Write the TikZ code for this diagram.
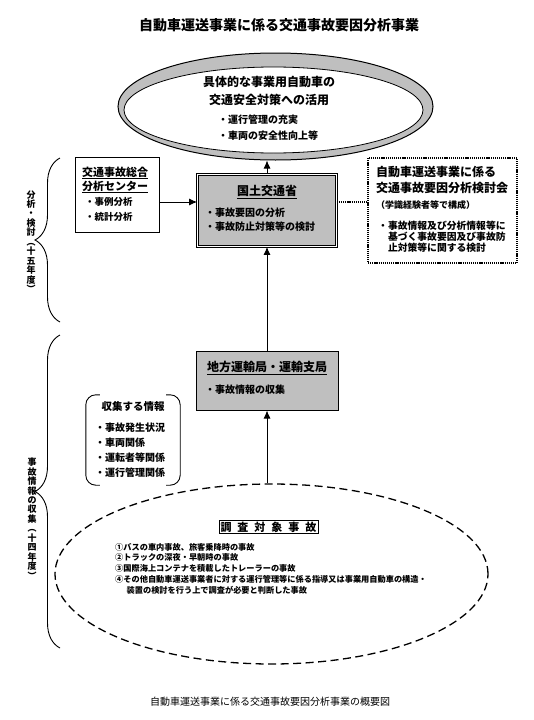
\documentclass[tikz,border=0pt]{standalone}
\usepackage{fontspec}
\setmainfont{Noto Sans CJK JP}
\usetikzlibrary{shapes.geometric,decorations.pathreplacing,arrows.meta}
\begin{document}
\begin{tikzpicture}[x=1pt, y=-1pt,
  arr/.style={-{Latex[length=8pt,width=7pt]}, line width=0.9pt},
  dotline/.style={line width=1.4pt, dash pattern=on 1.2pt off 0.9pt},
  grey box/.style={draw, fill=black!25, minimum width=142pt},
  head/.style={inner sep=0pt, align=center, font=\bfseries\fontsize{12}{18}\selectfont},
  item/.style={anchor=west, inner sep=0pt, align=left, font=\bfseries\fontsize{10}{14}\selectfont},
  vert/.style={inner sep=0pt, align=center, font=\bfseries\fontsize{9}{9.45}\selectfont}]
\useasboundingbox (0,0) rectangle (533,720);
\node[inner sep=0pt, font=\bfseries\fontsize{14}{16}\selectfont] (title) at (279,25) {自動車運送事業に係る交通事故要因分析事業};
\node[shape=ellipse, draw, line width=1pt, fill=black!25, minimum width=315pt, minimum height=107pt] (goal) at (275.5,106.5) {};
\node[shape=ellipse, draw, line width=0.8pt, fill=white, minimum width=299pt, minimum height=86pt] (goalin) at (273.5,110) {};
\node[head] (goalt) at (269,91) {具体的な事業用自動車の\\交通安全対策への活用};
\node[item, font=\bfseries\fontsize{10}{16}\selectfont] (goalb) at (218,128) {・運行管理の充実\\・車両の安全性向上等};
\node[draw, line width=0.9pt, minimum width=84pt, minimum height=75pt] (ctr) at (117,194.5) {};
\node[head, font=\bfseries\fontsize{11}{14}\selectfont] (ctrt) at (115,180) {\underline{交通事故総合}\\\underline{分析センター}};
\node[item, font=\bfseries\fontsize{9.5}{15}\selectfont] (ctrb) at (85,209.5) {・事例分析\\・統計分析};
\node[grey box, double, double distance=1.2pt, line width=0.7pt, minimum width=139pt, minimum height=72pt] (mlit) at (267,210.5) {};
\node[head] (mlitt) at (267,192) {\underline{国土交通省}};
\node[item] (mlitb) at (205,220) {・事故要因の分析\\・事故防止対策等の検討};
\node[draw, dotline, minimum width=149pt, minimum height=105pt] (study) at (442.5,210.5) {};
\node[item, font=\bfseries\fontsize{12}{16}\selectfont] (studyt) at (376,180) {自動車運送事業に係る\\交通事故要因分析検討会};
\node[item, font=\bfseries\fontsize{9}{11}\selectfont] (studym) at (376,205) {（学識経験者等で構成）};
\node[item, font=\bfseries\fontsize{9.8}{11.2}\selectfont] (studyb) at (378,237) {・事故情報及び分析情報等に\\\hspace*{1em}基づく事故要因及び事故防\\\hspace*{1em}止対策等に関する検討};
\node[grey box, line width=1pt, minimum height=59pt] (bureau) at (267,380.5) {};
\node[head] (bureaut) at (267,368) {\underline{地方運輸局・運輸支局}};
\node[item] (bureaub) at (205,390) {・事故情報の収集};
\node[minimum width=94pt, minimum height=90pt] (info) at (133,440) {};
\node[head, font=\bfseries\fontsize{10.5}{12}\selectfont] (infot) at (133,407) {収集する情報};
\node[item, font=\bfseries\fontsize{10}{15}\selectfont] (infob) at (95,450.5) {・事故発生状況\\・車両関係\\・運転者等関係\\・運行管理関係};
\draw[rounded corners=10pt, line width=0.9pt] ([xshift=14pt]info.north west) -- (info.north west) -- (info.south west) -- ([xshift=14pt]info.south west);
\draw[rounded corners=10pt, line width=0.9pt] ([xshift=-14pt]info.north east) -- (info.north east) -- (info.south east) -- ([xshift=-14pt]info.south east);
\node[shape=ellipse, draw, line width=1.3pt, dash pattern=on 8pt off 4.5pt, minimum width=433pt, minimum height=180pt] (target) at (271.5,574) {};
\node[draw, line width=0.8pt, inner sep=1.5pt, font=\bfseries\fontsize{11}{13}\selectfont] (targett) at (268.5,527) {調\hspace{6pt}査\hspace{6pt}対\hspace{6pt}象\hspace{6pt}事\hspace{6pt}故};
\node[item, font=\bfseries\fontsize{8.2}{10.8}\selectfont] (targetb) at (115,568.5) {①バスの車内事故、旅客乗降時の事故\\②トラックの深夜・早朝時の事故\\③国際海上コンテナを積載したトレーラーの事故\\④その他自動車運送事業者に対する運行管理等に係る指導又は事業用自動車の構造・\\\hspace*{1.4em}装置の検討を行う上で調査が必要と判断した事故};
\node[inner sep=0pt, font=\fontsize{10}{12}\selectfont] (caption) at (270,702) {自動車運送事業に係る交通事故要因分析事業の概要図};
\coordinate (b1top) at (60,158);
\coordinate (b1bot) at (60,322);
\coordinate (b2top) at (60,335);
\coordinate (b2bot) at (60,648);
\draw[line width=0.9pt, decorate, decoration={brace, amplitude=25pt}] (b1bot) -- (b1top);
\draw[line width=0.9pt, decorate, decoration={brace, amplitude=25pt}] (b2bot) -- (b2top);
\node[vert] (b1text) at (31,241.5) {分\\析\\・\\検\\討\\︵\\十\\五\\年\\度\\︶};
\node[vert] (b2text) at (32,518.5) {事\\故\\情\\報\\の\\収\\集\\︵\\十\\四\\年\\度\\︶};
\path [arr] (mlit.north) edge (mlit.north |- goal.south);
\path [arr] ([yshift=-7.5pt]ctr.east) edge ([yshift=8.5pt]mlit.west);
\path [dotline] ([yshift=8.5pt]mlit.east) edge ([yshift=8.5pt]study.west);
\path [arr] (bureau) edge (mlit);
\path [arr] (bureau |- target.north) edge (bureau);
\end{tikzpicture}
\end{document}
